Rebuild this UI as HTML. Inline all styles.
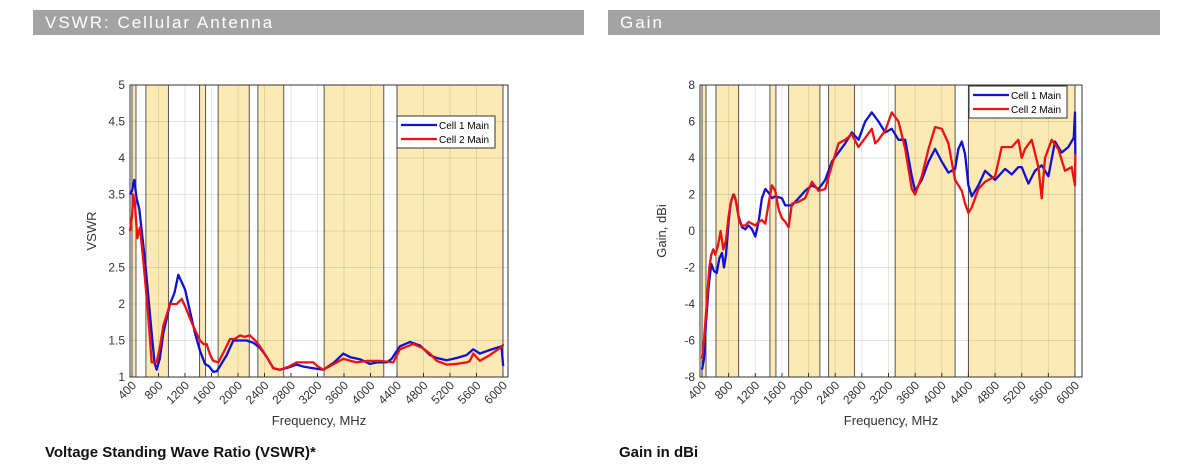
<!DOCTYPE html>
<html><head><meta charset="utf-8"><style>
body{margin:0;width:1200px;height:471px;background:#fff;overflow:hidden;position:relative;font-family:"Liberation Sans",sans-serif}
.bar{position:absolute;top:10px;height:25px;background:#a3a3a3;color:#fff;font-size:17px;letter-spacing:2px;line-height:25px;padding-left:12px;box-sizing:border-box}
.cap{position:absolute;top:444px;font-weight:bold;font-size:15px;color:#111}
svg{position:absolute;left:0;top:0}
</style></head><body>
<div class="bar" style="left:33px;width:551px">VSWR: Cellular Antenna</div>
<div class="bar" style="left:608px;width:552px">Gain</div>
<div class="cap" style="left:45px">Voltage Standing Wave Ratio (VSWR)*</div>
<div class="cap" style="left:619px">Gain in dBi</div>
<svg id="s" width="1200" height="471" xmlns="http://www.w3.org/2000/svg" font-family="Liberation Sans, sans-serif"></svg>
<script>
const S=document.getElementById('s');let h='';
const bands=[[400,460],[610,950],[1420,1510],[1700,2170],[2300,2690],[3300,4200],[4400,6000]];
function chart(o){
 const X=f=>o.x400+(f-400)*(o.x6000-o.x400)/5600;
 const Y=v=>o.yt+(o.ymax-v)*(o.yb-o.yt)/(o.ymax-o.ymin);
 h+=`<rect x="${o.l}" y="${o.yt}" width="${o.r-o.l}" height="${o.yb-o.yt}" fill="#fff"/>`;
 for(const b of bands)h+=`<rect x="${X(b[0])}" y="${o.yt}" width="${X(b[1])-X(b[0])}" height="${o.yb-o.yt}" fill="#fde9b4" stroke="#555" stroke-width="1"/>`;
 for(let f=400;f<=6000;f+=400){const x=X(f);h+=`<line x1="${x}" y1="${o.yt}" x2="${x}" y2="${o.yb}" stroke="#000" stroke-opacity="0.1"/>`;
  h+=`<line x1="${x}" y1="${o.yb}" x2="${x}" y2="${o.yb-4}" stroke="#333"/>`;
  h+=`<text transform="translate(${x+5},${o.yb+9}) rotate(-45)" text-anchor="end" font-size="12" fill="#333">${f}</text>`;}
 for(let v=o.ymin;v<=o.ymax+1e-9;v+=o.ys){const y=Y(v);h+=`<line x1="${o.l}" y1="${y}" x2="${o.r}" y2="${y}" stroke="#000" stroke-opacity="0.1"/>`;
  h+=`<text x="${o.l-5}" y="${y+4}" text-anchor="end" font-size="12" fill="#333">${+v.toFixed(1)}</text>`;}
 h+=`<rect x="${o.l}" y="${o.yt}" width="${o.r-o.l}" height="${o.yb-o.yt}" fill="none" stroke="#333"/>`;
 for(const [d,c] of [[o.b,'#1010d0'],[o.rd,'#ee1111']]){
  h+=`<polyline fill="none" stroke="${c}" stroke-width="2.3" stroke-linejoin="round" points="${d.map(p=>X(p[0]).toFixed(1)+','+Y(p[1]).toFixed(1)).join(' ')}"/>`;}
 const L=o.leg;h+=`<rect x="${L[0]}" y="${L[1]}" width="98" height="32" fill="#fff" stroke="#333"/>`;
 h+=`<line x1="${L[0]+4}" y1="${L[1]+9}" x2="${L[0]+40}" y2="${L[1]+9}" stroke="#1010d0" stroke-width="2.3"/><text x="${L[0]+42}" y="${L[1]+13}" font-size="10">Cell 1 Main</text>`;
 h+=`<line x1="${L[0]+4}" y1="${L[1]+23}" x2="${L[0]+40}" y2="${L[1]+23}" stroke="#ee1111" stroke-width="2.3"/><text x="${L[0]+42}" y="${L[1]+27}" font-size="10">Cell 2 Main</text>`;
 h+=`<text x="${(o.l+o.r)/2}" y="425" text-anchor="middle" font-size="13" fill="#333">Frequency, MHz</text>`;
 h+=`<text transform="translate(${o.l-34},${(o.yt+o.yb)/2}) rotate(-90)" text-anchor="middle" font-size="13" fill="#333">${o.yl}</text>`;
}
chart({l:130,r:508,x400:132,x6000:503,yt:85,yb:377,ymin:1,ymax:5,ys:0.5,yl:'VSWR',leg:[397,116],
b:[[370,3.5],[400,3.55],[435,3.7],[470,3.45],[510,3.3],[596,2.6],[697,1.6],[740,1.2],[772,1.1],[820,1.25],[873,1.6],[973,2.0],[1040,2.15],[1099,2.4],[1150,2.3],[1200,2.2],[1275,1.9],[1351,1.6],[1430,1.35],[1502,1.18],[1560,1.15],[1627,1.07],[1680,1.08],[1728,1.15],[1830,1.3],[1929,1.5],[2030,1.5],[2130,1.5],[2230,1.47],[2331,1.4],[2430,1.28],[2533,1.12],[2633,1.1],[2760,1.13],[2885,1.17],[3000,1.14],[3136,1.12],[3287,1.1],[3450,1.2],[3589,1.32],[3700,1.27],[3850,1.24],[3991,1.18],[4100,1.2],[4243,1.2],[4320,1.25],[4444,1.42],[4595,1.48],[4750,1.43],[4897,1.3],[5000,1.26],[5148,1.23],[5300,1.26],[5450,1.3],[5551,1.38],[5652,1.32],[5800,1.37],[5978,1.42],[6003,1.15]],
rd:[[370,3.0],[400,3.2],[420,3.5],[450,3.3],[480,2.9],[520,3.05],[570,2.6],[640,1.9],[697,1.2],[772,1.2],[820,1.4],[873,1.7],[973,2.0],[1074,2.0],[1150,2.07],[1210,1.95],[1275,1.8],[1350,1.65],[1426,1.5],[1480,1.45],[1527,1.45],[1580,1.3],[1627,1.22],[1703,1.2],[1790,1.35],[1879,1.52],[1950,1.52],[2030,1.57],[2100,1.55],[2180,1.57],[2260,1.5],[2331,1.42],[2430,1.28],[2533,1.12],[2633,1.1],[2760,1.14],[2885,1.2],[3000,1.2],[3136,1.2],[3200,1.15],[3287,1.1],[3450,1.18],[3589,1.25],[3700,1.22],[3790,1.2],[3950,1.22],[4142,1.22],[4343,1.2],[4444,1.38],[4645,1.45],[4780,1.4],[4897,1.32],[5000,1.22],[5148,1.17],[5300,1.18],[5450,1.2],[5500,1.22],[5551,1.32],[5652,1.22],[5800,1.3],[5993,1.42],[6003,1.45]]});
chart({l:700,r:1082,x400:702,x6000:1075,yt:85,yb:377,ymin:-8,ymax:8,ys:2,yl:'Gain, dBi',leg:[969,86],
b:[[400,-7.6],[430,-7],[460,-5],[500,-3],[540,-1.8],[580,-2.2],[620,-2.3],[660,-1.5],[700,-1.2],[730,-2],[760,-1.3],[800,0.5],[830,1.5],[870,2],[900,1.8],[950,0.8],[1000,0.2],[1050,0.1],[1100,0.3],[1150,0.1],[1200,-0.3],[1250,0.5],[1300,1.8],[1350,2.3],[1400,2.1],[1450,1.8],[1500,1.9],[1600,1.8],[1650,1.4],[1750,1.4],[1850,1.8],[1950,2.2],[2050,2.5],[2150,2.3],[2250,2.8],[2350,3.8],[2450,4.3],[2550,4.8],[2650,5.4],[2750,5.0],[2850,6.0],[2950,6.5],[3050,6.0],[3150,5.4],[3250,5.6],[3350,5.0],[3450,5.0],[3550,3.0],[3600,2.2],[3700,2.8],[3800,3.8],[3900,4.5],[4000,3.8],[4100,3.2],[4200,3.4],[4250,4.5],[4300,4.9],[4350,4.2],[4400,2.5],[4450,1.9],[4550,2.5],[4650,3.3],[4800,2.8],[4950,3.4],[5050,3.1],[5150,3.5],[5200,3.5],[5300,2.6],[5400,3.3],[5500,3.6],[5600,3.0],[5700,4.9],[5800,4.3],[5900,4.6],[5980,5.1],[6000,6.5],[6005,4.2]],
rd:[[400,-7],[430,-6],[470,-4],[510,-2],[540,-1.3],[570,-1],[600,-1.3],[640,-0.8],[680,0],[720,-1],[760,-0.5],[800,0.8],[840,1.7],[880,2.0],[920,1.5],[960,0.5],[1000,0.3],[1050,0.3],[1100,0.5],[1150,0.4],[1200,0.3],[1250,0.5],[1300,0.6],[1350,0.4],[1400,1.5],[1450,2.5],[1500,2.2],[1550,1.2],[1600,0.7],[1650,0.5],[1700,0.2],[1750,1.5],[1850,1.6],[1950,1.8],[2050,2.7],[2150,2.2],[2250,2.3],[2350,3.6],[2450,4.8],[2550,5.0],[2650,5.3],[2750,4.6],[2850,5.1],[2950,5.6],[3000,4.8],[3050,5.0],[3150,5.5],[3250,6.5],[3350,6.0],[3450,4.5],[3550,2.3],[3600,2.0],[3700,3.0],[3800,4.5],[3900,5.7],[4000,5.6],[4100,4.8],[4200,2.8],[4300,2.2],[4350,1.5],[4400,1.0],[4450,1.3],[4550,2.3],[4650,2.7],[4800,3.0],[4900,4.6],[5050,4.6],[5150,5.0],[5200,4.0],[5250,4.5],[5350,5.0],[5450,3.5],[5500,1.8],[5550,4.0],[5650,5.0],[5750,4.5],[5850,3.3],[5950,3.5],[6000,2.5],[6005,4.2]]});
S.innerHTML=h;
</script>
</body></html>
